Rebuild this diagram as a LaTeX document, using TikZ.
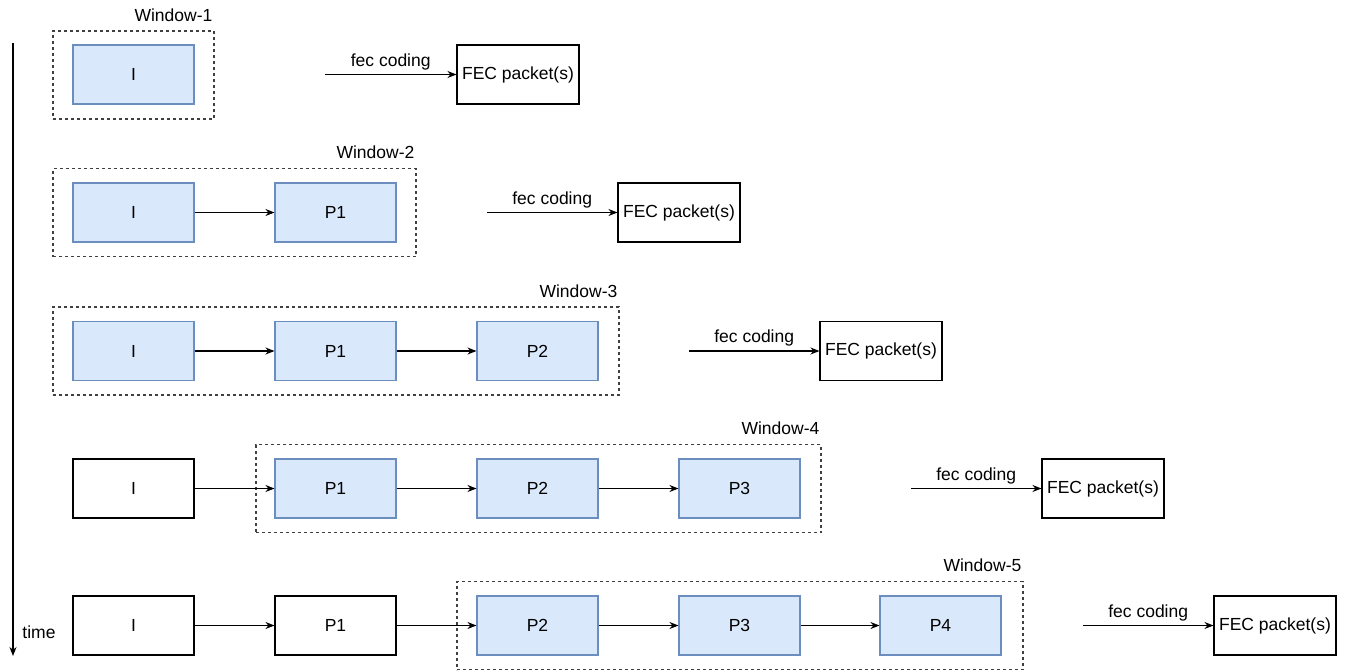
\documentclass[tikz,border=0pt]{standalone}
\usepackage{fontspec}
\setmainfont{Liberation Sans}
\usetikzlibrary{arrows.meta}
\definecolor{frameblue}{HTML}{DAE8FC}
\definecolor{lineblue}{HTML}{6C8EBF}

\begin{document}
\begin{tikzpicture}[x=1pt, y=-1pt,
  every node/.style={font=\fontsize{17.5}{21}\selectfont},
  frame/.style={draw=lineblue, fill=frameblue, line width=1.1pt, minimum width=121pt, minimum height=59pt, inner sep=0pt},
  plain/.style={draw, fill=white, line width=1.1pt, minimum width=121pt, minimum height=59pt, inner sep=0pt},
  fecbox/.style={plain, minimum width=122pt},
  window/.style={draw=black!75, line width=1.1pt, dash pattern=on 3pt off 3pt, minimum height=88pt, inner sep=0pt},
  winlabel/.style={anchor=south east, inner sep=0pt, xshift=-2pt, yshift=9pt},
  link/.style={-{Stealth[length=9pt, width=7pt]}, line width=1.1pt}]
  \useasboundingbox (0,0) rectangle (1345,672);
  % time axis
  \coordinate (t0) at (13,43);
  \coordinate (t1) at (13,656);
  \draw[link] (t0) -- (t1);
  \node (time) at (39,632) {time};
  % window 1
  \node[window, minimum width=161pt] (win1) at (133.5,75) {};
  \node[winlabel] (lab1) at (win1.north east) {Window-1};
  \node[frame] (w1I) at (133.5,74.5) {I};
  \coordinate (fs1) at (325,74.5);
  \node[fecbox] (fec1) at (518,74.5) {FEC packet(s)};
  \draw[link] (fs1) -- node[above, inner sep=4pt] {fec coding} (fec1);
  % window 2
  \node[window, minimum width=363pt] (win2) at (234.5,212.5) {};
  \node[winlabel] (lab2) at (win2.north east) {Window-2};
  \node[frame] (w2I) at (133.5,212.5) {I};
  \node[frame] (w2P1) at (335.5,212.5) {P1};
  \draw[link] (w2I) -- (w2P1);
  \coordinate (fs2) at (487,212.5);
  \node[fecbox] (fec2) at (679,212.5) {FEC packet(s)};
  \draw[link] (fs2) -- node[above, inner sep=4pt] {fec coding} (fec2);
  % window 3
  \node[window, minimum width=566pt] (win3) at (336,351) {};
  \node[winlabel] (lab3) at (win3.north east) {Window-3};
  \node[frame] (w3I) at (133.5,351) {I};
  \node[frame] (w3P1) at (335.5,351) {P1};
  \node[frame] (w3P2) at (537.5,351) {P2};
  \draw[link] (w3I) -- (w3P1);
  \draw[link] (w3P1) -- (w3P2);
  \coordinate (fs3) at (689,351);
  \node[fecbox] (fec3) at (881,351) {FEC packet(s)};
  \draw[link] (fs3) -- node[above, inner sep=4pt] {fec coding} (fec3);
  % window 4
  \node[window, minimum width=565pt] (win4) at (538.5,488.5) {};
  \node[winlabel] (lab4) at (win4.north east) {Window-4};
  \node[plain] (w4I) at (133.5,488.5) {I};
  \node[frame] (w4P1) at (335.5,488.5) {P1};
  \node[frame] (w4P2) at (537.5,488.5) {P2};
  \node[frame] (w4P3) at (739.5,488.5) {P3};
  \draw[link] (w4I) -- (w4P1);
  \draw[link] (w4P1) -- (w4P2);
  \draw[link] (w4P2) -- (w4P3);
  \coordinate (fs4) at (911,488.5);
  \node[fecbox] (fec4) at (1103,488.5) {FEC packet(s)};
  \draw[link] (fs4) -- node[above, inner sep=4pt] {fec coding} (fec4);
  % window 5
  \node[window, minimum width=566pt] (win5) at (740,625.5) {};
  \node[winlabel] (lab5) at (win5.north east) {Window-5};
  \node[plain] (w5I) at (133.5,625.5) {I};
  \node[plain] (w5P1) at (335.5,625.5) {P1};
  \node[frame] (w5P2) at (537.5,625.5) {P2};
  \node[frame] (w5P3) at (739.5,625.5) {P3};
  \node[frame] (w5P4) at (940.5,625.5) {P4};
  \draw[link] (w5I) -- (w5P1);
  \draw[link] (w5P1) -- (w5P2);
  \draw[link] (w5P2) -- (w5P3);
  \draw[link] (w5P3) -- (w5P4);
  \coordinate (fs5) at (1083,625.5);
  \node[fecbox] (fec5) at (1275,625.5) {FEC packet(s)};
  \draw[link] (fs5) -- node[above, inner sep=4pt] {fec coding} (fec5);
\end{tikzpicture}
\end{document}
